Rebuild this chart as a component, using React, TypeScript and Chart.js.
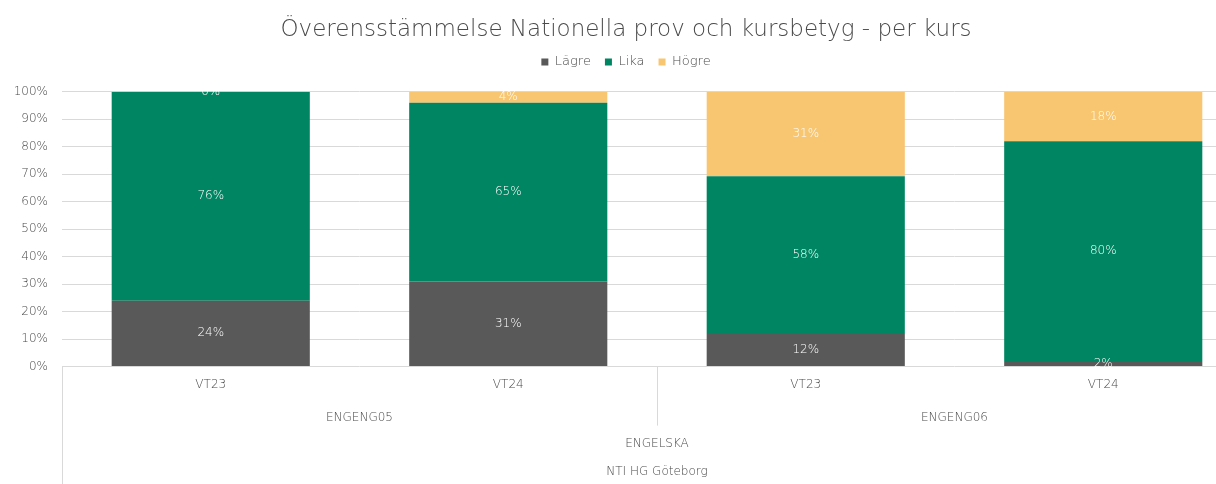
import React, { useEffect, useRef } from "react";
import { Chart, registerables } from "chart.js";

Chart.register(...registerables);

const periods = ["VT23", "VT24", "VT23", "VT24"];
const courses = ["ENGENG05", "ENGENG05", "ENGENG06", "ENGENG06"];
const subject = "ENGELSKA";
const school = "NTI HG Göteborg";
const lagre = [24, 31, 12, 2];
const lika = [76, 65, 58, 80];
const hogre = [0, 4, 31, 18];
const yTicks = [0, 10, 20, 30, 40, 50, 60, 70, 80, 90, 100];

const FONT = "'DejaVu Sans', sans-serif";
const TEXT = "#4a4a4a";
const GRID = "#d9d9d9";

const totals = periods.map((_, i) => lagre[i] + lika[i] + hogre[i]);
const norm = (arr: number[]) => arr.map((v, i) => (v / totals[i]) * 100);

const multiLevel = {
  id: "multiLevel",
  afterDraw(chart: any) {
    const { ctx, chartArea } = chart;
    const x = chart.scales.x;
    const bottom = chartArea.bottom;
    ctx.save();
    ctx.font = `200 12px ${FONT}`;
    ctx.fillStyle = "#ffffff";
    ctx.textAlign = "center";
    ctx.textBaseline = "middle";
    const raw = [lagre, lika, hogre];
    chart.data.datasets.forEach((ds: any, di: number) => {
      const meta = chart.getDatasetMeta(di);
      meta.data.forEach((bar: any, i: number) => {
        const cy = (bar.y + bar.base) / 2;
        ctx.fillText(raw[di][i] + "%", bar.x, cy);
      });
    });
    ctx.strokeStyle = GRID;
    ctx.lineWidth = 1;
    ctx.beginPath();
    const lx = Math.round(chartArea.left) + 0.5;
    ctx.moveTo(lx, bottom);
    ctx.lineTo(lx, chart.height);
    const sep = Math.round((x.getPixelForValue(1) + x.getPixelForValue(2)) / 2) + 0.5;
    ctx.moveTo(sep, bottom);
    ctx.lineTo(sep, bottom + 59);
    ctx.stroke();
    ctx.fillStyle = TEXT;
    ctx.font = `200 12px ${FONT}`;
    const seen: string[] = [];
    courses.forEach((c) => {
      if (seen.includes(c)) return;
      seen.push(c);
      const idx = courses.map((v, i) => (v === c ? i : -1)).filter((i) => i >= 0);
      const cx = (x.getPixelForValue(idx[0]) + x.getPixelForValue(idx[idx.length - 1])) / 2;
      ctx.fillText(c, cx, bottom + 51);
    });
    const mid = (x.getPixelForValue(0) + x.getPixelForValue(periods.length - 1)) / 2;
    ctx.fillText(subject, mid, bottom + 77);
    ctx.fillText(school, mid, bottom + 105);
    ctx.restore();
  },
};

export default function App() {
  const ref = useRef<HTMLCanvasElement>(null);
  useEffect(() => {
    if (!ref.current) return;
    const chart = new Chart(ref.current, {
      type: "bar",
      data: {
        labels: periods,
        datasets: [
          { label: "Lägre", data: norm(lagre), backgroundColor: "#595959" },
          { label: "Lika", data: norm(lika), backgroundColor: "#008562" },
          { label: "Högre", data: norm(hogre), backgroundColor: "#f8c671" },
        ],
      },
      options: {
        responsive: false,
        animation: false,
        devicePixelRatio: 1,
        layout: { padding: { left: 0, right: 14, top: 0, bottom: 89 } },
        datasets: { bar: { categoryPercentage: 1, barPercentage: 0.666 } },
        plugins: {
          title: {
            display: true,
            text: "Överensstämmelse Nationella prov och kursbetyg - per kurs",
            color: TEXT,
            font: { family: FONT, size: 23, weight: "200" },
            padding: { top: 16, bottom: -2 },
          },
          subtitle: {
            display: true,
            text: "",
            weight: 500,
            font: { size: 1 },
            padding: { top: 12, bottom: 0 },
          },
          legend: {
            position: "top",
            labels: {
              color: TEXT,
              font: { family: FONT, size: 13, weight: "200" },
              boxWidth: 7,
              boxHeight: 7,
              padding: 14,
            },
          },
          tooltip: { enabled: false },
        },
        scales: {
          x: {
            stacked: true,
            grid: { display: false },
            border: { display: false },
            ticks: { color: TEXT, font: { family: FONT, size: 12, weight: "200" }, padding: 3 },
          },
          y: {
            stacked: true,
            min: 0,
            max: 100,
            afterBuildTicks: (s: any) => {
              s.ticks = yTicks.map((v) => ({ value: v }));
            },
            afterFit: (s: any) => {
              s.width = 62;
            },
            grid: { color: GRID, drawTicks: false },
            border: { display: false },
            ticks: {
              color: TEXT,
              font: { family: FONT, size: 12, weight: "200" },
              padding: 14,
              callback: (v: any) => v + "%",
            },
          },
        },
      },
      plugins: [multiLevel],
    });
    return () => chart.destroy();
  }, []);
  return (
    <div style={{ position: "absolute", left: 0, top: 0, width: 1216, height: 484, overflow: "hidden", background: "#fff" }}>
      <canvas ref={ref} width={1266} height={484} style={{ display: "block" }} />
    </div>
  );
}
